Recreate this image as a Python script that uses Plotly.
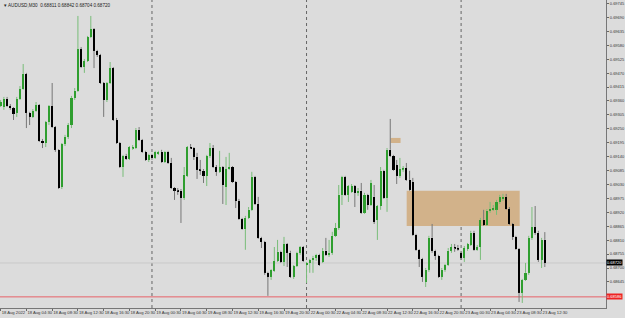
import plotly.graph_objects as go

# ---------------- data (AUDUSD, M30) ----------------
bar_open = [0.69340,0.69336,0.69368,0.69340,0.69332,0.69313,0.69368,0.69407,0.69467,0.69313,
0.69297,0.69321,0.69344,0.69202,0.69194,0.69277,0.69340,0.69257,0.69167,0.69020,
0.69190,0.69218,0.69265,0.69372,0.69400,0.69565,0.69494,0.69518,0.69613,0.69644,
0.69558,0.69542,0.69431,0.69364,0.69431,0.69490,0.69285,0.69194,0.69099,0.69143,
0.69131,0.69174,0.69174,0.69246,0.69206,0.69159,0.69127,0.69147,0.69135,0.69151,
0.69159,0.69119,0.69159,0.69115,0.69016,0.69005,0.69005,0.68977,0.69064,0.69178,
0.69174,0.69139,0.69088,0.69084,0.69064,0.69143,0.69174,0.69099,0.69080,0.69099,
0.69020,0.69091,0.69099,0.69040,0.68965,0.68894,0.68854,0.68898,0.68930,0.69060,
0.68953,0.68819,0.68803,0.68681,0.68665,0.68689,0.68728,0.68764,0.68724,0.68795,
0.68760,0.68665,0.68708,0.68760,0.68783,0.68712,0.68720,0.68732,0.68740,0.68752,
0.68724,0.68768,0.68752,0.68760,0.68827,0.68858,0.68989,0.69060,0.68989,0.69001,
0.69024,0.68997,0.69005,0.68918,0.68989,0.68949,0.68981,0.68890,0.68945,0.69084,
0.68977,0.69167,0.69143,0.69107,0.69064,0.69091,0.69095,0.69048,0.69040,0.68831,
0.68772,0.68736,0.68645,0.68693,0.68819,0.68768,0.68748,0.68665,0.68693,0.68712,
0.68768,0.68783,0.68779,0.68760,0.68740,0.68775,0.68791,0.68839,0.68772,0.68783,
0.68890,0.68870,0.68926,0.68930,0.68930,0.68961,0.68973,0.68981,0.68933,0.68874,
0.68823,0.68775,0.68602,0.68653,0.68681,0.68819,0.68862,0.68839,0.68732,0.68811]

bar_close = [0.69356,0.69368,0.69340,0.69332,0.69309,0.69368,0.69407,0.69467,0.69313,0.69297,
0.69321,0.69344,0.69202,0.69194,0.69277,0.69340,0.69257,0.69167,0.69016,0.69190,
0.69218,0.69265,0.69372,0.69400,0.69565,0.69494,0.69518,0.69613,0.69644,0.69558,
0.69542,0.69431,0.69364,0.69431,0.69490,0.69285,0.69194,0.69099,0.69143,0.69131,
0.69178,0.69178,0.69246,0.69206,0.69159,0.69127,0.69147,0.69135,0.69159,0.69159,
0.69119,0.69159,0.69115,0.69016,0.69005,0.69001,0.68977,0.69068,0.69178,0.69174,
0.69139,0.69088,0.69084,0.69064,0.69143,0.69174,0.69099,0.69080,0.69099,0.69028,
0.69091,0.69099,0.69040,0.68965,0.68894,0.68854,0.68898,0.68930,0.69060,0.68953,
0.68819,0.68803,0.68681,0.68665,0.68693,0.68728,0.68764,0.68724,0.68795,0.68760,
0.68665,0.68708,0.68760,0.68783,0.68728,0.68720,0.68732,0.68740,0.68752,0.68712,
0.68768,0.68752,0.68760,0.68827,0.68858,0.68989,0.69060,0.68989,0.69024,0.69024,
0.68997,0.69005,0.68918,0.68989,0.68949,0.69036,0.68882,0.68945,0.69084,0.68977,
0.69167,0.69143,0.69088,0.69064,0.69091,0.69095,0.69048,0.69009,0.68831,0.68772,
0.68736,0.68665,0.68693,0.68819,0.68768,0.68748,0.68665,0.68693,0.68712,0.68768,
0.68783,0.68779,0.68775,0.68740,0.68779,0.68795,0.68839,0.68772,0.68783,0.68890,
0.68870,0.68926,0.68933,0.68937,0.68961,0.68981,0.68981,0.68933,0.68874,0.68823,
0.68775,0.68602,0.68653,0.68681,0.68819,0.68862,0.68839,0.68732,0.68811,0.68720]

bar_high = [0.69364,0.69376,0.69376,0.69348,0.69336,0.69376,0.69419,0.69506,0.69471,0.69317,
0.69328,0.69356,0.69348,0.69210,0.69281,0.69344,0.69431,0.69261,0.69170,0.69194,
0.69226,0.69273,0.69380,0.69411,0.69696,0.69573,0.69526,0.69617,0.69696,0.69648,
0.69562,0.69546,0.69435,0.69435,0.69514,0.69494,0.69293,0.69198,0.69147,0.69151,
0.69182,0.69186,0.69253,0.69257,0.69210,0.69163,0.69151,0.69151,0.69163,0.69163,
0.69167,0.69163,0.69163,0.69135,0.69020,0.69016,0.69012,0.69099,0.69182,0.69190,
0.69178,0.69155,0.69127,0.69091,0.69147,0.69194,0.69186,0.69107,0.69163,0.69103,
0.69139,0.69155,0.69103,0.69044,0.68973,0.68898,0.68906,0.68941,0.69080,0.69064,
0.68981,0.68823,0.68807,0.68685,0.68696,0.68783,0.68811,0.68768,0.68823,0.68799,
0.68768,0.68712,0.68764,0.68787,0.68787,0.68724,0.68736,0.68748,0.68756,0.68756,
0.68779,0.68819,0.68811,0.68843,0.68878,0.69028,0.69064,0.69064,0.69028,0.69032,
0.69028,0.69016,0.69036,0.68997,0.68993,0.69048,0.69028,0.68949,0.69099,0.69088,
0.69174,0.69289,0.69147,0.69127,0.69135,0.69103,0.69115,0.69084,0.69056,0.68835,
0.68775,0.68740,0.68700,0.68827,0.68874,0.68772,0.68752,0.68700,0.68716,0.68779,
0.68795,0.68795,0.68791,0.68764,0.68787,0.68799,0.68847,0.68847,0.68791,0.68898,
0.68930,0.68933,0.68961,0.68949,0.68969,0.68989,0.68993,0.68993,0.68941,0.68878,
0.68827,0.68779,0.68657,0.68720,0.68827,0.68941,0.68945,0.68847,0.68819,0.68842]

bar_low = [0.69336,0.69325,0.69336,0.69325,0.69285,0.69297,0.69364,0.69404,0.69253,0.69265,
0.69293,0.69317,0.69198,0.69174,0.69178,0.69265,0.69253,0.69159,0.69012,0.69012,
0.69182,0.69210,0.69253,0.69364,0.69396,0.69490,0.69471,0.69514,0.69609,0.69490,
0.69534,0.69427,0.69297,0.69356,0.69427,0.69281,0.69190,0.69095,0.69060,0.69127,
0.69127,0.69167,0.69170,0.69202,0.69155,0.69123,0.69119,0.69127,0.69131,0.69147,
0.69115,0.69115,0.69111,0.69012,0.68969,0.68989,0.68878,0.68969,0.69060,0.69170,
0.69127,0.69052,0.69068,0.69036,0.69024,0.69135,0.69095,0.69064,0.69076,0.68953,
0.68949,0.69088,0.69036,0.68937,0.68890,0.68851,0.68772,0.68894,0.68926,0.68949,
0.68815,0.68779,0.68673,0.68590,0.68653,0.68685,0.68724,0.68720,0.68708,0.68704,
0.68661,0.68657,0.68704,0.68752,0.68724,0.68641,0.68681,0.68681,0.68728,0.68708,
0.68720,0.68748,0.68744,0.68752,0.68823,0.68851,0.68949,0.68985,0.68961,0.68997,
0.68941,0.68985,0.68914,0.68914,0.68930,0.68945,0.68874,0.68811,0.68930,0.68973,
0.68922,0.69139,0.69084,0.69032,0.69056,0.69080,0.69044,0.69005,0.68827,0.68768,
0.68704,0.68645,0.68625,0.68685,0.68760,0.68732,0.68661,0.68653,0.68685,0.68708,
0.68760,0.68764,0.68768,0.68732,0.68724,0.68768,0.68787,0.68768,0.68768,0.68732,
0.68866,0.68866,0.68918,0.68926,0.68910,0.68953,0.68965,0.68930,0.68870,0.68811,
0.68772,0.68566,0.68562,0.68649,0.68673,0.68811,0.68831,0.68724,0.68700,0.68704]

# x-axis labels every 8 bars (first bar = 18 Aug 2022 00:30)
time_tick_bars = list(range(0, 170, 8))
time_tick_labels = ["18 Aug 2022", "18 Aug 04:30", "18 Aug 08:30", "18 Aug 12:30", "18 Aug 16:30",
                    "18 Aug 20:30", "19 Aug 00:30", "19 Aug 04:30", "19 Aug 08:30", "19 Aug 12:30",
                    "19 Aug 16:30", "19 Aug 20:30", "22 Aug 00:30", "22 Aug 04:30", "22 Aug 08:30",
                    "22 Aug 12:30", "22 Aug 16:30", "22 Aug 20:30", "23 Aug 00:30", "23 Aug 04:30",
                    "23 Aug 08:30", "23 Aug 12:30"]
day_start_bars = [47, 95, 143]          # 19 Aug, 22 Aug, 23 Aug 00:00

# price scale labels (the one under the red line label is hidden by it in the original)
price_ticks = [0.68535, 0.68645, 0.68700, 0.68755, 0.68810, 0.68865, 0.68920, 0.68975,
               0.69030, 0.69085, 0.69140, 0.69195, 0.69250, 0.69305, 0.69360, 0.69415, 0.69470,
               0.69525, 0.69580, 0.69635, 0.69690, 0.69745]

# drawn zones (bar index start/end, price bottom/top)
zone_small = [121.1, 124.2, 0.69194, 0.69214]
zone_big = [126.1, 161.2, 0.68866, 0.69005]
red_level = 0.68586
symbol_title = "AUDUSD,M30"

# ---------------- figure ----------------
BG = "#dcdcdc"
UP = "#2f9e2f"
UP_WICK = "#79bd79"
DN = "#000000"
DN_WICK = "#777777"
FS = 4.0

n = len(bar_close)
idx = list(range(n))

def wick_xy(sel):
    xs, ys = [], []
    for i in sel:
        top = max(bar_open[i], bar_close[i])
        bot = min(bar_open[i], bar_close[i])
        xs += [i, i, None, i, i, None]
        ys += [bar_high[i], top, None, bot, bar_low[i], None]
    return xs, ys

up_idx = [i for i in idx if bar_close[i] >= bar_open[i]]
dn_idx = [i for i in idx if bar_close[i] < bar_open[i]]

fig = go.Figure()
for sel, col in ((up_idx, UP_WICK), (dn_idx, DN_WICK)):
    wx, wy = wick_xy(sel)
    fig.add_trace(go.Scatter(x=wx, y=wy, mode="lines", line=dict(color=col, width=1),
                             hoverinfo="skip", showlegend=False))

for sel, col in ((up_idx, UP), (dn_idx, DN)):
    fig.add_trace(go.Bar(
        x=sel,
        y=[bar_close[i] - bar_open[i] for i in sel],
        base=[bar_open[i] for i in sel],
        width=0.64,
        marker=dict(color=col, line=dict(width=0)),
        showlegend=False,
    ))

shapes = []
for z in (zone_small, zone_big):
    shapes.append(dict(type="rect", xref="x", yref="y", x0=z[0], x1=z[1], y0=z[2], y1=z[3],
                       fillcolor="#d2b28a", line=dict(width=0), layer="below"))
for d in day_start_bars:
    shapes.append(dict(type="line", xref="x", yref="paper", x0=d, x1=d, y0=0, y1=1,
                       line=dict(color="#666666", width=1, dash="dot"), layer="below"))
shapes.append(dict(type="line", xref="paper", yref="y", x0=0, x1=1, y0=bar_close[-1], y1=bar_close[-1],
                   line=dict(color="#c9c9c9", width=1), layer="below"))
shapes.append(dict(type="line", xref="paper", yref="y", x0=0, x1=1, y0=red_level, y1=red_level,
                   line=dict(color="#e8636a", width=1), layer="below"))

annotations = [
    dict(xref="paper", yref="paper", x=0.003, y=0.998, xanchor="left", yanchor="top", showarrow=False,
         text="▾ %s  %.5f %.5f %.5f %.5f" % (symbol_title, bar_open[-1], bar_high[-1], bar_low[-1], bar_close[-1]),
         font=dict(size=4.6, color="#222222", family="Liberation Sans")),
    dict(xref="paper", yref="y", x=1.0, y=bar_close[-1], xanchor="left", yanchor="middle", showarrow=False,
         text="%.5f" % bar_close[-1], bgcolor="#000000", borderpad=0,
         font=dict(size=FS, color="#ffffff", family="Liberation Sans")),
    dict(xref="paper", yref="y", x=1.0, y=red_level, xanchor="left", yanchor="middle", showarrow=False,
         text="%.5f" % red_level, bgcolor="#ee2222", borderpad=0,
         font=dict(size=FS, color="#ffffff", family="Liberation Sans")),
]

fig.update_layout(
    width=625, height=318,
    margin=dict(l=0, r=19, t=0, b=10, autoexpand=False),
    paper_bgcolor=BG, plot_bgcolor=BG,
    barmode="overlay", bargap=0,
    shapes=shapes, annotations=annotations,
    showlegend=False,
    xaxis=dict(range=[-0.2, 188.0], showgrid=False, zeroline=False, automargin=False,
               tickmode="array", tickvals=time_tick_bars, ticktext=time_tick_labels,
               tickangle=0,
               ticks="outside", ticklen=2, tickcolor="#666666",
               ticklabelposition="outside right",
               tickfont=dict(size=4.2, color="#333333", family="Liberation Sans"),
               showline=True, linecolor="#777777", linewidth=1),
    yaxis=dict(range=[0.68542, 0.69759], side="right", showgrid=False, zeroline=False, automargin=False,
               tickmode="array", tickvals=price_ticks, ticktext=["%.5f" % v for v in price_ticks],
               ticks="outside", ticklen=2, tickcolor="#666666",
               tickfont=dict(size=FS, color="#333333", family="Liberation Sans"),
               showline=True, linecolor="#777777", linewidth=1),
)

fig.write_html("out.html")
